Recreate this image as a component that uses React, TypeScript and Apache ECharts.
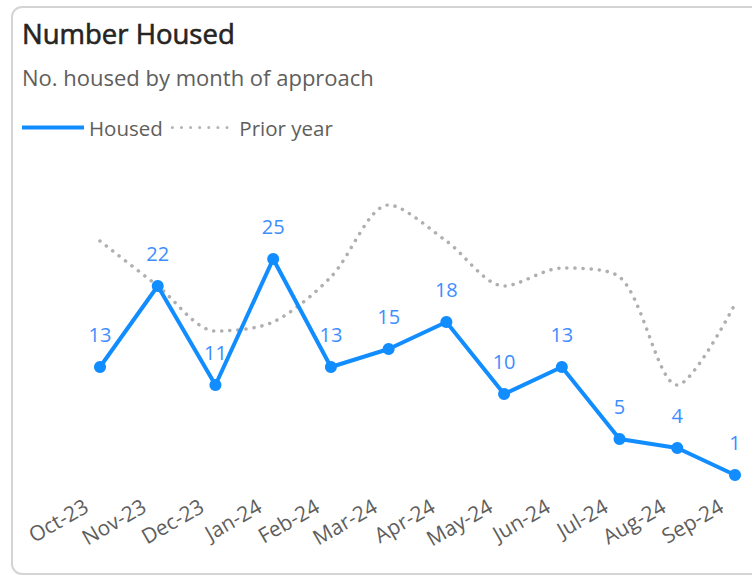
import React, { useEffect, useRef } from "react";
import * as echarts from "echarts";

const months = ["Oct-23", "Nov-23", "Dec-23", "Jan-24", "Feb-24", "Mar-24", "Apr-24", "May-24", "Jun-24", "Jul-24", "Aug-24", "Sep-24"];
const housed = [13, 22, 11, 25, 13, 15, 18, 10, 13, 5, 4, 1];
const priorYear = [27, 22, 17, 18, 23, 31, 27, 22, 24, 23, 11, 20];

const FONT = "'Segoe UI', 'Open Sans', sans-serif";

export default function App() {
  const ref = useRef<HTMLDivElement>(null);
  useEffect(() => {
    if (!ref.current) return;
    const chart = echarts.init(ref.current, undefined, { renderer: "svg" });
    chart.setOption({
      animation: false,
      backgroundColor: "#ffffff",
      textStyle: { fontFamily: FONT },
      graphic: [
        {
          type: "rect",
          z: -10,
          silent: true,
          shape: { x: 12, y: 7, width: 770, height: 567, r: 10 },
          style: { fill: "#ffffff", stroke: "#d4d4d4", lineWidth: 2 },
        },
      ],
      title: {
        text: "Number Housed",
        subtext: "No. housed by month of approach",
        left: 17,
        top: 14,
        itemGap: 18,
        textStyle: {
          fontFamily: FONT,
          fontSize: 27.5,
          fontWeight: "normal",
          color: "#252423",
          textBorderColor: "#252423",
          textBorderWidth: 0.6,
        },
        subtextStyle: { fontFamily: FONT, fontSize: 22, color: "#605E5C" },
      },
      legend: {
        left: 15,
        top: 112,
        itemWidth: 62,
        itemHeight: 14,
        itemGap: 8,
        itemStyle: { opacity: 0 },
        textStyle: { fontFamily: FONT, fontSize: 20.5, color: "#605E5C" },
        data: [
          { name: "Housed", lineStyle: { width: 4, color: "#118DFF" } },
          { name: "Prior year", lineStyle: { width: 3, color: "#B5B5B5", type: [0.1, 9], cap: "round" } },
        ],
      },
      grid: { left: 100, right: 17, top: 205, bottom: 93 },
      xAxis: {
        type: "category",
        data: months,
        boundaryGap: false,
        axisLine: { show: false },
        axisTick: { show: false },
        axisLabel: {
          rotate: 30,
          margin: 12,
          padding: [0, 16, 0, 0],
          fontSize: 21,
          color: "#605E5C",
          fontFamily: FONT,
          interval: 0,
        },
      },
      yAxis: { type: "value", min: 0, max: 31, show: false },
      series: [
        {
          name: "Prior year",
          type: "line",
          data: priorYear,
          smooth: 0.3,
          symbol: "none",
          lineStyle: { color: "#AFAFAF", width: 3.5, type: [0.1, 8], cap: "round" },
          itemStyle: { color: "#AFAFAF" },
          z: 1,
        },
        {
          name: "Housed",
          type: "line",
          data: housed,
          symbol: "circle",
          symbolSize: 12,
          lineStyle: { color: "#118DFF", width: 4 },
          itemStyle: { color: "#118DFF" },
          label: { show: true, position: "top", distance: 17, fontSize: 20, color: "#3D8EFF", fontFamily: FONT },
          z: 2,
        },
      ],
    });
    return () => chart.dispose();
  }, []);
  return <div ref={ref} style={{ position: "fixed", left: 0, top: 0, width: 752, height: 577 }} />;
}
